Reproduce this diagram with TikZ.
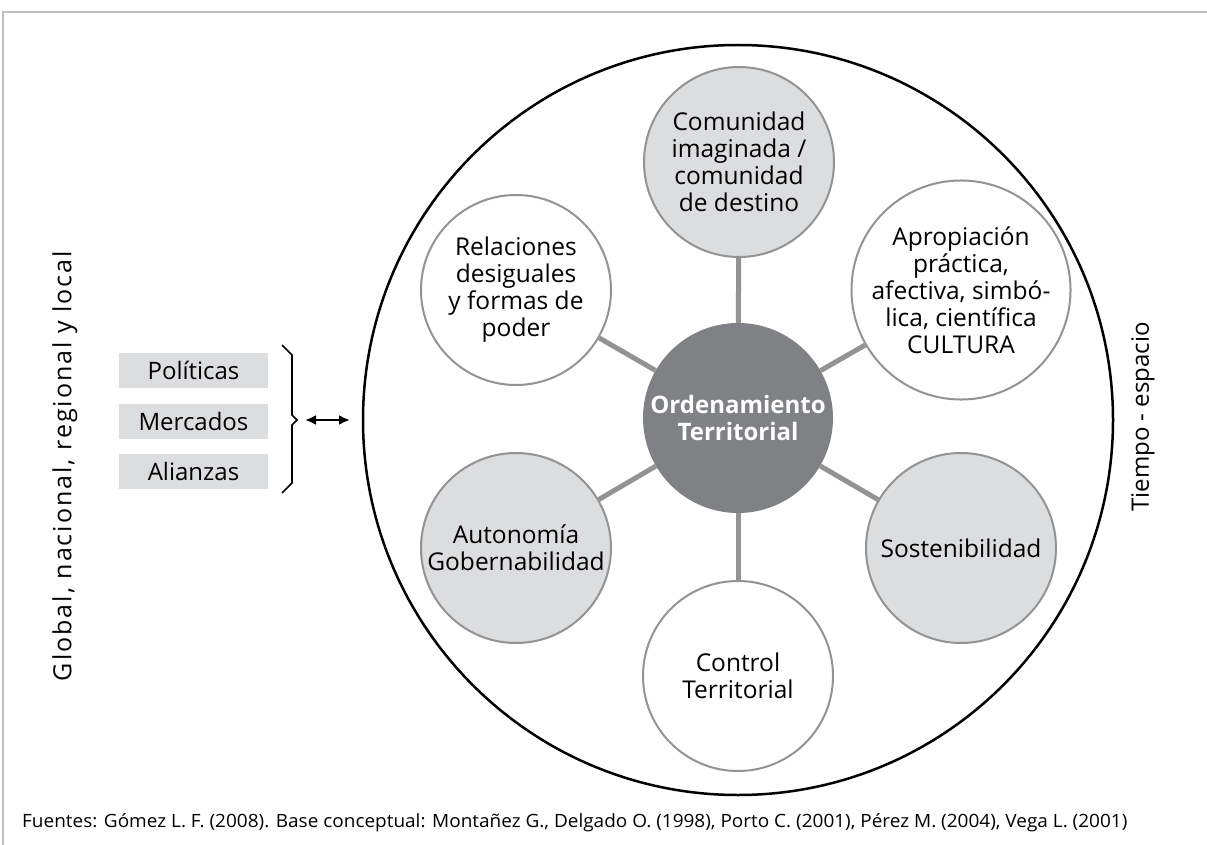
\documentclass[tikz,border=0pt]{standalone}
\usepackage{fontspec}
\setmainfont{Open Sans}
\usetikzlibrary{arrows.meta}
\definecolor{lgray}{HTML}{DCDDDF}
\definecolor{dgray}{HTML}{808184}
\definecolor{bgray}{HTML}{939393}
\definecolor{fgray}{HTML}{BFBFBF}
\begin{document}
\begin{tikzpicture}[x=1pt,y=-1pt,
  bub/.style={circle, minimum size=190pt, inner sep=0pt, draw=bgray, line width=2pt, align=center, font=\fontsize{24.5}{27}\selectfont},
  fillbub/.style={bub, fill=lgray},
  link/.style={draw=bgray, line width=5pt},
  itembox/.style={fill=lgray, minimum width=149pt, minimum height=35pt, inner sep=0pt, font=\fontsize{24}{27}\selectfont},
  sidetext/.style={font=\fontsize{24}{27}\selectfont, rotate=90}
]
\useasboundingbox (0,0) rectangle (1207,845);
\draw[fgray, line width=2.5pt] (3,845) -- (3,12) -- (1207,12);
\node[circle, draw=black, line width=2.5pt, minimum size=750pt, inner sep=0pt] (outer) at (738,420) {};
\node[circle, fill=dgray, minimum size=190pt, inner sep=0pt, text=white, align=center, font=\bfseries\fontsize{24}{27}\selectfont] (ot) at (738,418) {Ordenamiento\\Territorial};
\node[fillbub] (com) at (739,162) {Comunidad\\imaginada /\\comunidad\\de destino};
\node[bub] (rel) at (516,290) {Relaciones\\desiguales\\y formas de\\poder};
\node[bub] (apr) at (961,290) {Apropiación\\práctica,\\afectiva, simbó-\\lica, científica\\CULTURA};
\node[fillbub] (aut) at (516,548) {Autonomía\\Gobernabilidad};
\node[fillbub] (sos) at (961,548) {Sostenibilidad};
\node[bub] (con) at (738,676) {Control\\Territorial};
\foreach \n in {com,rel,apr,aut,sos,con} \draw[link] (ot) -- (\n);
\node[itembox] (pol) at (193.5,370.5) {Políticas};
\node[itembox] (mer) at (193.5,421.5) {Mercados};
\node[itembox] (ali) at (193.5,471.5) {Alianzas};
\coordinate (btop) at (282,345);
\coordinate (bbot) at (282,493);
\coordinate (btip) at (297,420);
\draw[black, line width=1.6pt] (btop) -- (292,355) -- (292,415) -- (btip) -- (292,425) -- (292,483) -- (bbot);
\coordinate (al) at (305,420);
\coordinate (ar) at (350,420);
\draw[black, line width=2.2pt, {Latex[length=11pt,width=10pt]}-{Latex[length=11pt,width=10pt]}] (al) -- (ar);
\node[sidetext] (glob) at (65,466) {\fontsize{25}{27}\selectfont\addfontfeature{LetterSpace=8}Global, nacional, regional y local};
\node[sidetext] (tiem) at (1143,417) {Tiempo - espacio};
\node[anchor=west, inner sep=0pt] (src) at (22,823) {\resizebox{1105pt}{14pt}{\fontsize{16}{20}\selectfont Fuentes: Gómez L. F. (2008). Base conceptual: Montañez G., Delgado O. (1998), Porto C. (2001), Pérez M. (2004), Vega L. (2001)}};
\end{tikzpicture}
\end{document}
